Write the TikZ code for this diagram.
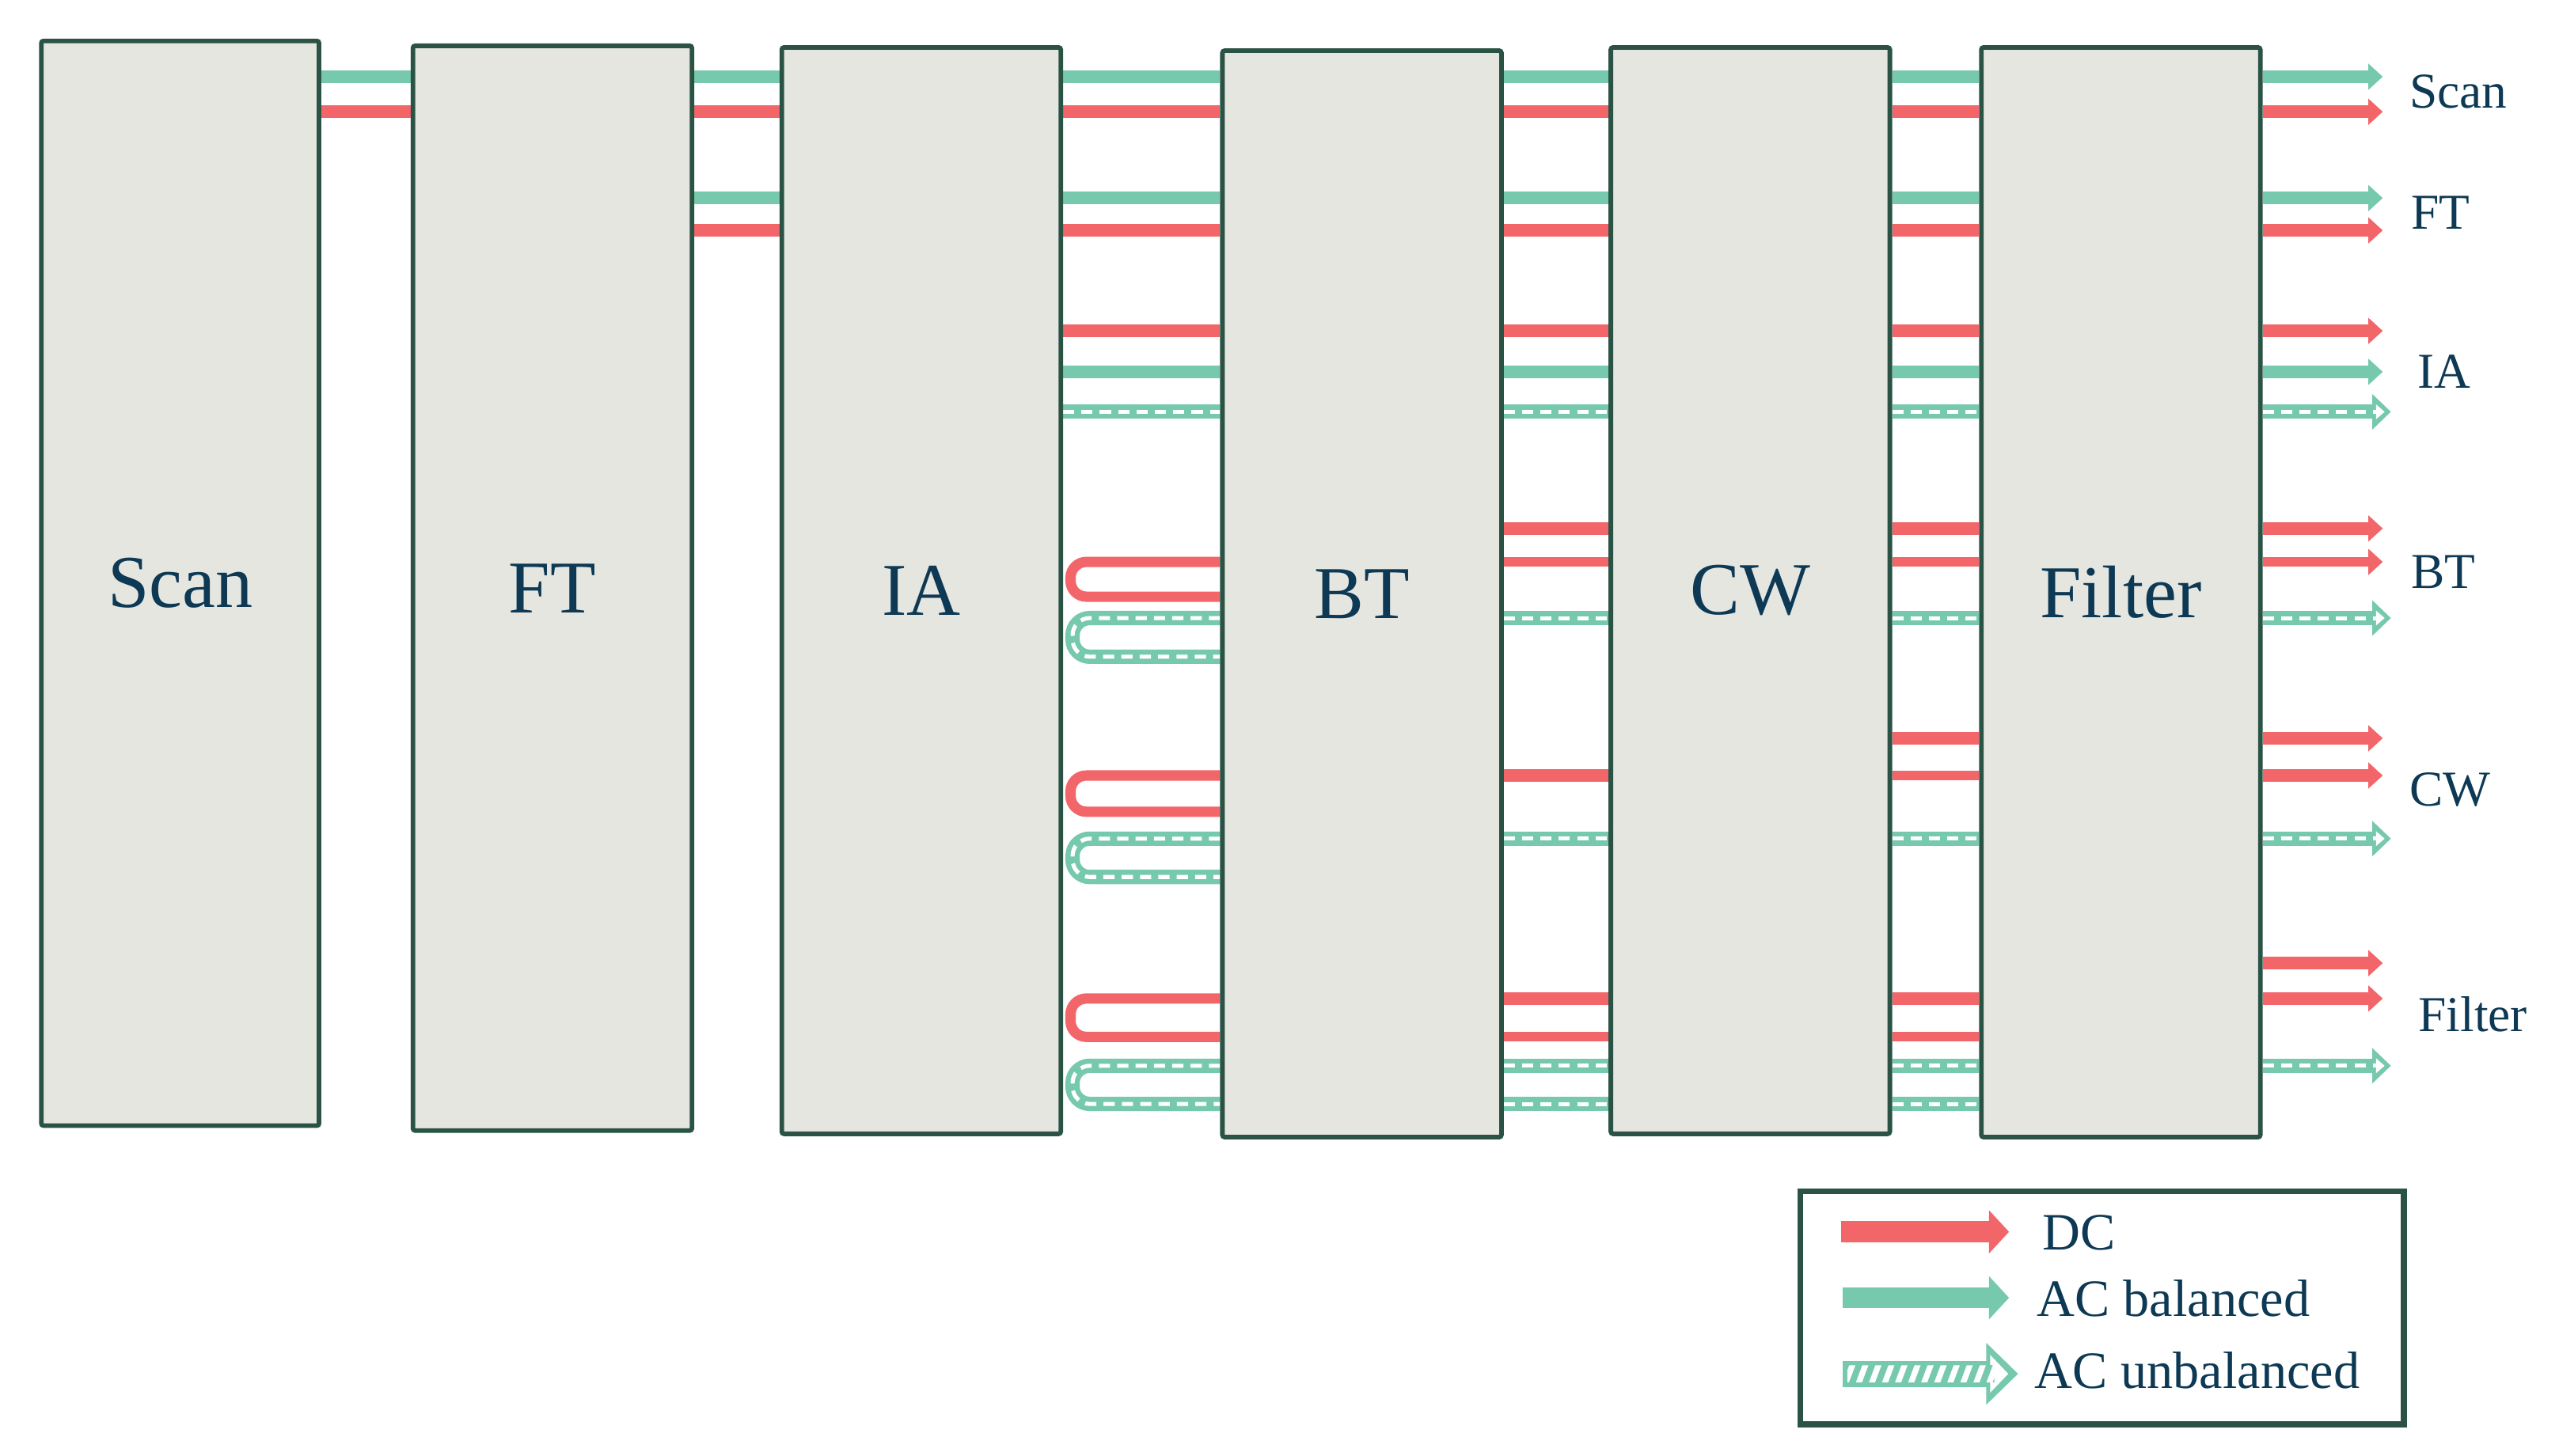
\documentclass[tikz,border=0pt]{standalone}
\usepackage{fontspec}
\setmainfont{Liberation Serif}
\usetikzlibrary{arrows.meta,backgrounds}
\definecolor{dcred}{HTML}{F2666A}
\definecolor{acgreen}{HTML}{77C9AD}
\definecolor{boxfill}{HTML}{E6E6E1}
\definecolor{boxline}{HTML}{2A5345}
\definecolor{txt}{HTML}{0D3954}
\tikzset{
  box/.style={draw=boxline, fill=boxfill, line width=1.6pt, rounded corners=0.8pt,
    minimum width=3.42cm, inner sep=0pt, text=txt, font=\fontsize{26}{30}\selectfont},
  lab/.style={inner sep=0pt, text=txt, font=\fontsize{17.5}{20}\selectfont, anchor=base west},
  legtext/.style={inner sep=0pt, text=txt, font=\fontsize{18.3}{22}\selectfont, anchor=base west},
  dc/.style={draw=dcred, line width=4.4pt},
  dcthin/.style={draw=dcred, line width=3.3pt},
  dcloop/.style={draw=dcred, line width=3.6pt},
  acb/.style={draw=acgreen, line width=4.4pt},
  acu/.style={draw=acgreen, line width=5pt},
  acuin/.style={draw=white, line width=1.4pt, dash pattern=on 3.9pt off 2.5pt},
  arr/.style={-{Triangle[length=5pt,width=8.8pt]}},
}
\newcommand\aculine[1]{\draw[acu] #1; \draw[acuin] #1;}
\newcommand\acuarrow[1]{\draw[acu,-{Triangle[length=6.5pt,width=12pt]}] #1;
  \draw[acuin,shorten >=2.2pt,-{Triangle[length=3pt,width=5pt]}] #1;}
\begin{document}
\begin{tikzpicture}[x=0.02cm,y=-0.02cm]
\useasboundingbox (0,0) rectangle (1568,892);

% blocks
\node[box, minimum width=3.404cm, minimum height=13.3cm] (scan) at (110.4,357.5) {Scan};
\node[box, minimum height=13.3cm] (ft) at (338.5,360.5) {FT};
\node[box, minimum height=13.32cm] (ia) at (564.5,362) {IA};
\node[box, minimum height=13.32cm] (bt) at (834.5,364) {BT};
\node[box, minimum height=13.32cm] (cw) at (1072.5,362) {CW};
\node[box, minimum height=13.36cm] (filter) at (1299.5,363) {Filter};

\coordinate (tipS) at (1460,0);
\coordinate (tipH) at (1465,0);

\begin{scope}[on background layer]
% plain connectors between blocks
\foreach \a/\b/\y/\s in {
  scan/ft/47/acb, scan/ft/68.5/dc,
  ft/ia/47/acb, ft/ia/68.5/dc, ft/ia/121.4/acb, ft/ia/141.2/dc,
  ia/bt/47/acb, ia/bt/68.5/dc, ia/bt/121.4/acb, ia/bt/141.2/dc, ia/bt/202.8/dc, ia/bt/227.9/acb,
  bt/cw/47/acb, bt/cw/68.5/dc, bt/cw/121.4/acb, bt/cw/141.2/dc, bt/cw/202.8/dc, bt/cw/227.9/acb,
  bt/cw/323.9/dc, bt/cw/344.4/dcthin, bt/cw/475.3/dc, bt/cw/612/dc, bt/cw/635.5/dcthin,
  cw/filter/47/acb, cw/filter/68.5/dc, cw/filter/121.4/acb, cw/filter/141.2/dc, cw/filter/202.8/dc,
  cw/filter/227.9/acb, cw/filter/323.9/dc, cw/filter/344.4/dcthin, cw/filter/452.5/dc,
  cw/filter/475.3/dcthin, cw/filter/612/dc, cw/filter/635.5/dcthin}
  \draw[\s] (\a.east |- 0,\y) -- (\b.west |- 0,\y);
% hatched connectors between blocks
\foreach \a/\b/\y in {ia/bt/252.4, bt/cw/252.4, bt/cw/378.8, bt/cw/514, bt/cw/653.2, bt/cw/676.6,
  cw/filter/252.4, cw/filter/378.8, cw/filter/514, cw/filter/653.2, cw/filter/676.6}
  {\aculine{(\a.east |- 0,\y) -- (\b.west |- 0,\y)}}
% U-turn loops at the left of BT
\foreach \ya/\yb in {344.4/365.7, 475.3/497.5, 612/635.5}
  \draw[dcloop, rounded corners=5.5pt] (bt.west |- 0,\ya) -- ([xshift=2.6pt]ia.east |- 0,\ya)
     -- ([xshift=2.6pt]ia.east |- 0,\yb) -- (bt.west |- 0,\yb);
\foreach \ya/\yb in {378.8/402.5, 514/537.5, 653.2/676.6}
  {\aculine{[rounded corners=6pt] (bt.west |- 0,\ya) -- ([xshift=3.3pt]ia.east |- 0,\ya)
     -- ([xshift=3.3pt]ia.east |- 0,\yb) -- (bt.west |- 0,\yb)}}
% outputs
\foreach \y/\s in {47/acb, 68.5/dc, 121.4/acb, 141.2/dc, 202.8/dc, 227.9/acb, 323.9/dc,
  344.4/dcthin, 452.5/dc, 475.3/dc, 590.3/dc, 612/dc}
  \draw[\s, arr] (filter.east |- 0,\y) -- (tipS |- 0,\y);
\foreach \y in {252.4, 378.8, 514, 653.2}
  {\acuarrow{(filter.east |- 0,\y) -- (tipH |- 0,\y)}}
\end{scope}

% output labels
\node[lab] (oscan) at (1476,66) {Scan};
\node[lab] (oft) at (1477,140.5) {FT};
\node[lab] (oia) at (1481,238) {IA};
\node[lab] (obt) at (1477,360.4) {BT};
\node[lab] (ocw) at (1476,494) {CW};
\node[lab] (ofilter) at (1481.6,632) {Filter};

% legend
\node[draw=boxline, line width=2pt, fill=white, minimum width=7.4cm, minimum height=2.86cm, inner sep=0pt]
  (legend) at (1288,801.5) {};
\coordinate (ldca) at (1128,755);
\coordinate (ldcb) at (1231,755);
\draw[draw=dcred, line width=7.4pt, -{Triangle[length=7pt,width=14.7pt]}] (ldca) -- (ldcb);
\coordinate (lacba) at (1129,795.4);
\coordinate (lacbb) at (1231,795.4);
\draw[draw=acgreen, line width=7.4pt, -{Triangle[length=7pt,width=14.7pt]}] (lacba) -- (lacbb);
% hatched legend arrow
\fill[acgreen] (1129,834) rectangle (1218,850);
\fill[acgreen] (1217,823) -- (1236.5,842) -- (1217,861) -- cycle;
\fill[white] (1132,836.8) -- (1219.5,836.8) -- (1219.5,830.5) -- (1230.5,842) -- (1219.5,853.5)
  -- (1219.5,847.2) -- (1132,847.2) -- cycle;
\begin{scope}
  \clip (1132,836.8) rectangle (1222,847.2);
  \foreach \x in {1126,1134,...,1226}
    \draw[acgreen, line width=2.2pt] (\x,850) -- (\x+6,834);
\end{scope}
\node[legtext] (tdc) at (1251,766) {DC};
\node[legtext] (tacb) at (1248,806.6) {AC balanced};
\node[legtext] (tacu) at (1246.5,851) {AC unbalanced};
\end{tikzpicture}
\end{document}
